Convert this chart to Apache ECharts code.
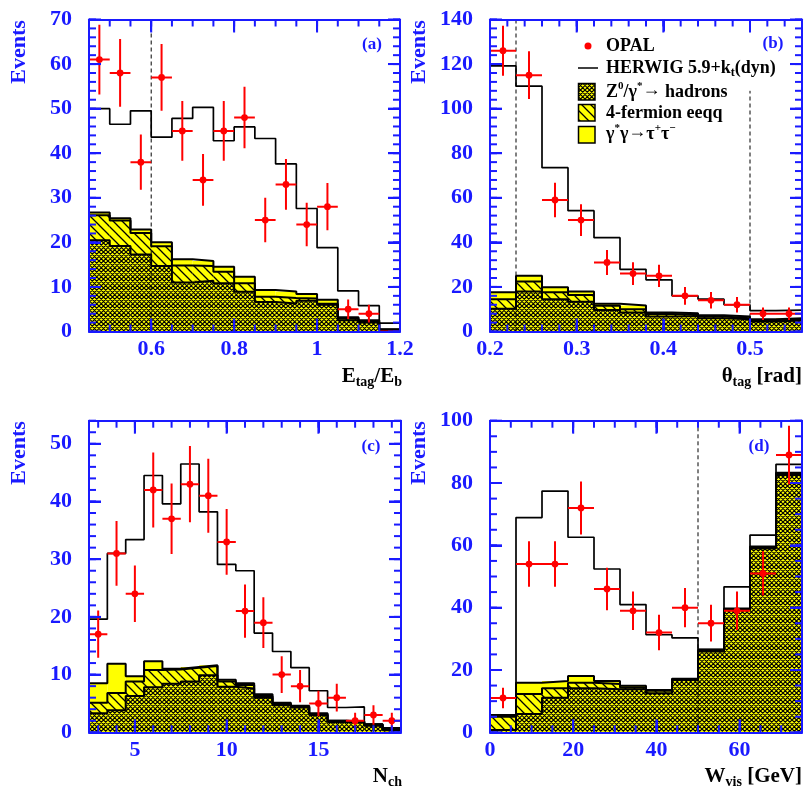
<!DOCTYPE html>
<html><head><meta charset="utf-8">
<script src="https://cdn.jsdelivr.net/npm/echarts@6/dist/echarts.min.js"></script>
<style>html,body{margin:0;padding:0;background:#fff}#c{width:804px;height:792px}</style>
</head><body><div id="c"></div><script>
// ---------- Panel (a): E_tag / E_b ----------
const aEdges = [0.45,0.50,0.55,0.60,0.65,0.70,0.75,0.80,0.85,0.90,0.95,1.00,1.05,1.10,1.15,1.20];
const aData  = [61,58,38,57,45,34,45,48,25,33,24,28,5,4,0];
const aErr   = [7.8,7.6,6.2,7.5,6.7,5.8,6.7,6.9,5.0,5.7,4.9,5.3,2.2,2.0,0];
const aMC    = [50.0,46.5,49.5,43.6,47.8,50.3,42.8,45.9,43.3,37.6,27.6,18.8,9.1,5.8,1.9];
const aZ0    = [20.5,19.2,17.3,14.7,11.0,11.4,10.8,8.9,6.6,6.3,6.9,6.0,2.5,2.0,0.4];
const a4f    = [26.1,24.9,22.1,19.1,14.8,14.7,13.4,10.8,7.8,7.5,7.4,6.2,2.9,2.2,0.4];
const aTau   = [26.7,25.4,22.9,20.0,16.2,15.8,14.5,12.3,9.3,9.0,8.4,7.1,3.2,2.5,0.5];
const aXTicks = [0.6,0.8,1.0,1.2];  const aXLabels = ['0.6','0.8','1','1.2'];
const aYTicks = [0,10,20,30,40,50,60,70];
// ---------- Panel (b): theta_tag ----------
const bEdges = [0.20,0.23,0.26,0.29,0.32,0.35,0.38,0.41,0.44,0.47,0.50,0.53,0.56];
const bData  = [126,115,59,50,31,26,25,16,14,12,8,8];
const bErr   = [11.2,10.7,7.7,7.1,5.6,5.1,5.0,4.0,3.7,3.5,2.8,2.8];
const bMC    = [119.2,110.1,73.5,54.2,42.1,27.9,23.2,16.0,14.5,12.0,9.4,9.6];
const bZ0    = [10.2,17.9,14.5,13.4,9.7,8.5,6.7,7.0,6.0,5.5,4.5,4.9];
const b4f    = [14.5,22.4,17.6,16.4,11.5,10.0,7.9,7.6,6.7,6.0,4.9,5.5];
const bTau   = [17.6,25.0,19.9,17.9,12.4,11.7,8.5,8.2,7.3,6.7,5.5,6.0];
const bXTicks = [0.2,0.3,0.4,0.5];  const bXLabels = ['0.2','0.3','0.4','0.5'];
const bYTicks = [0,20,40,60,80,100,120,140];
// ---------- Panel (c): N_ch ----------
const cEdges = [2.5,3.5,4.5,5.5,6.5,7.5,8.5,9.5,10.5,11.5,12.5,13.5,14.5,15.5,16.5,17.5,18.5,19.5];
const cData  = [17,31,24,42,37,43,41,33,21,19,10,8,5,6,2,3,2];
const cErr   = [4.1,5.6,4.9,6.5,6.1,6.6,6.4,5.7,4.6,4.4,3.2,2.8,2.2,2.4,1.4,1.7,1.4];
const cMC    = [19.6,31.0,33.4,44.5,39.6,46.5,38.2,29.1,28.0,17.2,14.0,11.2,7.2,4.3,4.4,1.4,0.35];
const cZ0    = [3.3,3.8,6.3,7.8,8.4,8.8,9.9,7.9,7.6,6.0,4.7,4.3,3.0,1.8,1.7,1.15,0.5];
const c4f    = [5.1,6.8,8.8,10.8,10.9,11.2,11.5,8.8,8.2,6.3,4.9,4.4,3.1,2.0,1.8,1.3,0.6];
const cTau   = [8.5,11.9,9.7,12.3,11.0,11.3,11.6,9.1,8.5,6.6,5.1,4.6,3.3,2.0,1.9,1.4,0.75];
const cXTicks = [5,10,15];  const cXLabels = ['5','10','15'];
const cYTicks = [0,10,20,30,40,50];
// ---------- Panel (d): W_vis ----------
const dEdges = [0,6.25,12.5,18.75,25,31.25,37.5,43.75,50,56.25,62.5,68.75,75];
const dData  = [11,54,54,72,46,39,32,40,35,39,51,89];
const dErr   = [3.3,7.3,7.3,8.5,6.8,6.2,5.7,6.3,5.9,6.2,7.1,9.4];
const dMC    = [5.6,68.9,77.4,62.6,52.4,41.0,31.3,30.3,26.6,46.7,63.3,86.0];
const dZ0    = [0.7,5.9,11.1,14.1,13.8,13.8,12.5,16.8,25.9,39.3,59.0,82.6];
const d4f    = [5.0,12.3,14.1,15.9,15.5,14.4,13.3,17.0,26.2,39.5,59.3,82.9];
const dTau   = [5.3,15.9,16.5,18.1,16.5,14.9,13.6,17.2,26.5,39.7,59.6,83.3];
const dXTicks = [0,20,40,60];  const dXLabels = ['0','20','40','60'];
const dYTicks = [0,20,40,60,80,100];

const BLUE = '#1a1aff', YEL = '#ffff00', RED = '#ff0000';
const FONT = '"Liberation Serif","Times New Roman",serif';

function range(a, b, s) { const r = []; for (let k = 0; a + k * s <= b + s * 1e-6; k++) r.push(Math.round((a + k * s) * 1e6) / 1e6); return r; }

function mkPattern(kind) {
  const s = 9;
  const cv = document.createElement('canvas'); cv.width = s; cv.height = s;
  const g = cv.getContext('2d');
  g.fillStyle = YEL; g.fillRect(0, 0, s, s);
  g.strokeStyle = '#000';
  g.beginPath();
  if (kind === 'cross') {
    g.lineWidth = 1.2;
    [-9, -4.5, 0, 4.5, 9].forEach(c => { g.moveTo(c - 1, -1); g.lineTo(c + 10, 10); });
    [0, 4.5, 9, 13.5, 18].forEach(c => { g.moveTo(c + 1, -1); g.lineTo(c - 10, 10); });
  } else {
    g.lineWidth = 1.3;
    [-9, 0, 9].forEach(c => { g.moveTo(c - 1, -1); g.lineTo(c + 10, 10); });
  }
  g.stroke();
  return cv;
}
const PCROSS = { image: mkPattern('cross'), repeat: 'repeat' };
const PDIAG = { image: mkPattern('diag'), repeat: 'repeat' };

const panels = [
  { grid: { left: 89, top: 19.5, width: 311, height: 312 }, x: [0.45, 1.2], y: [0, 70],
    xMaj: aXTicks, xLab: aXLabels, xMin: range(0.45, 1.2, 0.05), yMaj: aYTicks, yMin: range(0, 70, 2),
    edges: aEdges, data: aData, err: aErr, mc: aMC, z0: aZ0, f4: a4f, tau: aTau, cuts: [[0.6, 0, 70]] },
  { grid: { left: 490, top: 19.5, width: 312, height: 312 }, x: [0.2, 0.56], y: [0, 140],
    xMaj: bXTicks, xLab: bXLabels, xMin: range(0.2, 0.56, 0.02), yMaj: bYTicks, yMin: range(0, 140, 4),
    edges: bEdges, data: bData, err: bErr, mc: bMC, z0: bZ0, f4: b4f, tau: bTau, cuts: [[0.23, 0, 140], [0.5, 0, 108]] },
  { grid: { left: 89, top: 420.7, width: 312, height: 311.6 }, x: [2.5, 19.5], y: [0, 54],
    xMaj: cXTicks, xLab: cXLabels, xMin: range(3, 19, 1), yMaj: cYTicks, yMin: range(0, 54, 2),
    edges: cEdges, data: cData, err: cErr, mc: cMC, z0: cZ0, f4: c4f, tau: cTau, cuts: [] },
  { grid: { left: 490, top: 420.7, width: 312, height: 311.6 }, x: [0, 75], y: [0, 100],
    xMaj: dXTicks, xLab: dXLabels, xMin: range(0, 75, 5), yMaj: dYTicks, yMin: range(0, 100, 5),
    edges: dEdges, data: dData, err: dErr, mc: dMC, z0: dZ0, f4: d4f, tau: dTau, cuts: [[50, 0, 100]] }
];

const labelStyle = { color: BLUE, fontFamily: FONT, fontWeight: 'bold', fontSize: 22 };
function axesOf(gi, p, dir) {
  const isX = dir === 'x';
  const ext = isX ? p.x : p.y, maj = isX ? p.xMaj : p.yMaj;
  const pos = isX ? ['bottom', 'top'] : ['left', 'right'];
  const base = { gridIndex: gi, type: 'value', min: ext[0], max: ext[1], splitLine: { show: false }, z: 6, zlevel: 1,
    axisTick: { show: true, inside: true, length: 12, customValues: maj, lineStyle: { color: BLUE, width: 2 } } };
  const line = { show: true, onZero: false, lineStyle: { color: BLUE, width: 2 } };
  const lab = isX
    ? Object.assign({ show: true, customValues: maj, margin: 7, formatter: v => { let k = 0; maj.forEach((m, i) => { if (Math.abs(m - v) < Math.abs(maj[k] - v)) k = i; }); return p.xLab[k]; } }, labelStyle)
    : Object.assign({ show: true, customValues: maj, margin: 17 }, labelStyle);
  return [
    Object.assign({}, base, { position: pos[0], axisLine: line, axisLabel: lab }),
    Object.assign({}, base, { position: pos[1], axisLine: line, axisLabel: { show: false } })
  ];
}

// minor/major tick marks on one side of a frame: one item per tick, placed through the axis scales
function tickSide(gi, p, vals, len, side) {
  return { type: 'custom', xAxisIndex: gi * 2, yAxisIndex: gi * 2, clip: false, silent: true, z: 9, zlevel: 1,
    data: vals.map(v => [v, len]),
    renderItem(params, api) {
      const v = api.value(0), L = api.value(1);
      let a, sh;
      if (side === 'b') { a = api.coord([v, p.y[0]]); sh = { x1: a[0], y1: a[1], x2: a[0], y2: a[1] - L }; }
      else if (side === 't') { a = api.coord([v, p.y[1]]); sh = { x1: a[0], y1: a[1], x2: a[0], y2: a[1] + L }; }
      else if (side === 'l') { a = api.coord([p.x[0], v]); sh = { x1: a[0], y1: a[1], x2: a[0] + L, y2: a[1] }; }
      else { a = api.coord([p.x[1], v]); sh = { x1: a[0], y1: a[1], x2: a[0] - L, y2: a[1] }; }
      return { type: 'line', shape: sh, style: { stroke: BLUE, lineWidth: 2 } };
    } };
}

function histFill(gi, edges, vals, fill) {
  return { type: 'custom', xAxisIndex: gi * 2, yAxisIndex: gi * 2, clip: true, silent: true, z: 2,
    data: vals.map((v, i) => [edges[i], edges[i + 1], v]),
    renderItem(params, api) {
      const a = api.coord([api.value(0), api.value(2)]);
      const b = api.coord([api.value(1), 0]);
      return { type: 'rect', shape: { x: a[0], y: a[1], width: b[0] - a[0], height: b[1] - a[1] }, style: { fill: fill } };
    } };
}
function histLine(gi, edges, vals, width, z) {
  return { type: 'line', xAxisIndex: gi * 2, yAxisIndex: gi * 2, step: 'end', symbol: 'none', silent: true, z: z,
    data: edges.map((e, i) => [e, vals[Math.min(i, vals.length - 1)]]),
    lineStyle: { color: '#000', width: width } };
}
function points(gi, edges, vals, errs) {
  return { type: 'custom', xAxisIndex: gi * 2, yAxisIndex: gi * 2, clip: true, silent: true, z: 8,
    data: vals.map((v, i) => [edges[i], edges[i + 1], v, errs[i]]),
    renderItem(params, api) {
      const lo = api.value(0), hi = api.value(1), v = api.value(2), e = api.value(3), c = (lo + hi) / 2;
      const L = api.coord([lo, v]), R = api.coord([hi, v]);
      const ch = [{ type: 'line', shape: { x1: L[0], y1: L[1], x2: R[0], y2: R[1] }, style: { stroke: RED, lineWidth: 2 } }];
      if (v > 0) {
        const T = api.coord([c, v + e]), B = api.coord([c, v - e]), C = api.coord([c, v]);
        ch.push({ type: 'line', shape: { x1: T[0], y1: T[1], x2: B[0], y2: B[1] }, style: { stroke: RED, lineWidth: 2 } });
        ch.push({ type: 'circle', shape: { cx: C[0], cy: C[1], r: 3.4 }, style: { fill: RED } });
      }
      return { type: 'group', children: ch };
    } };
}
function dashed(gi, c) {
  return { type: 'line', xAxisIndex: gi * 2, yAxisIndex: gi * 2, symbol: 'none', silent: true, z: 5,
    data: [[c[0], c[1]], [c[0], c[2]]], lineStyle: { color: '#000', width: 1, type: [4, 3] } };
}

const grids = [], xAxes = [], yAxes = [], series = [];
panels.forEach((p, gi) => {
  grids.push(Object.assign({ containLabel: false, outerBoundsMode: 'none' }, p.grid));
  xAxes.push(...axesOf(gi, p, 'x'));
  yAxes.push(...axesOf(gi, p, 'y'));
  series.push(histFill(gi, p.edges, p.tau, YEL));
  series.push(histFill(gi, p.edges, p.f4, PDIAG));
  series.push(histFill(gi, p.edges, p.z0, PCROSS));
  series.push(histLine(gi, p.edges, p.tau, 2, 3));
  series.push(histLine(gi, p.edges, p.f4, 2, 3));
  series.push(histLine(gi, p.edges, p.z0, 2, 3));
  series.push(histLine(gi, p.edges, p.mc, 1.7, 4));
  p.cuts.forEach(c => series.push(dashed(gi, c)));
  series.push(points(gi, p.edges, p.data, p.err));
  series.push(tickSide(gi, p, p.xMin, 7, 'b'), tickSide(gi, p, p.xMin, 7, 't'),
              tickSide(gi, p, p.yMin, 7, 'l'), tickSide(gi, p, p.yMin, 7, 'r'),
              tickSide(gi, p, p.xMaj, 13, 'b'), tickSide(gi, p, p.xMaj, 13, 't'),
              tickSide(gi, p, p.yMaj, 12, 'l'), tickSide(gi, p, p.yMaj, 12, 'r'));
});

function rich(size, color) {
  const t = { fontFamily: FONT, fontWeight: 'bold', fill: color, verticalAlign: 'middle' };
  return {
    m: Object.assign({ fontSize: size }, t),
    s: Object.assign({ fontSize: Math.round(size * 0.66), padding: [Math.round(size * 0.5), 0, 0, 0] }, t),
    u: Object.assign({ fontSize: Math.round(size * 0.62), padding: [0, 0, Math.round(size * 0.6), 0] }, t),
    a: Object.assign({ fontSize: size, fontWeight: 'normal', padding: [0, 0, 3, 0] }, t)
  };
}
function txt(x, y, text, size, color, align, extra) {
  return Object.assign({ type: 'text', x: x, y: y, z: 50, silent: true,
    style: { text: text, rich: rich(size, color), fontFamily: FONT, fontWeight: 'bold', fontSize: size, fill: color, align: align || 'center', verticalAlign: 'middle' } }, extra || {});
}
const graphic = [
  txt(19, 52, '{m|Events}', 22, BLUE, 'center', { rotation: Math.PI / 2 }),
  txt(419, 52, '{m|Events}', 22, BLUE, 'center', { rotation: Math.PI / 2 }),
  txt(19, 453, '{m|Events}', 22, BLUE, 'center', { rotation: Math.PI / 2 }),
  txt(419, 453, '{m|Events}', 22, BLUE, 'center', { rotation: Math.PI / 2 }),
  txt(372, 45, '{m|(a)}', 17, BLUE),
  txt(773, 44, '{m|(b)}', 17, BLUE),
  txt(371, 447, '{m|(c)}', 17, BLUE),
  txt(759, 447, '{m|(d)}', 17, BLUE),
  txt(402, 377, '{m|E}{s|tag}{m|/E}{s|b}', 21, '#000', 'right'),
  txt(802, 377, '{m|θ}{s|tag}{m| [rad]}', 21, '#000', 'right'),
  txt(402, 777, '{m|N}{s|ch}', 21, '#000', 'right'),
  txt(802, 777, '{m|W}{s|vis}{m| [GeV]}', 21, '#000', 'right'),
  // legend
  { type: 'circle', z: 50, silent: true, shape: { cx: 588, cy: 46, r: 3.5 }, style: { fill: RED } },
  { type: 'line', z: 50, silent: true, shape: { x1: 578, y1: 68, x2: 598, y2: 68 }, style: { stroke: '#000', lineWidth: 1.5 } },
  { type: 'rect', z: 50, silent: true, shape: { x: 578.5, y: 83.5, width: 16.5, height: 16.5 }, style: { fill: PCROSS, stroke: '#000', lineWidth: 1.5 } },
  { type: 'rect', z: 50, silent: true, shape: { x: 578.5, y: 104.5, width: 16.5, height: 16.5 }, style: { fill: PDIAG, stroke: '#000', lineWidth: 1.5 } },
  { type: 'rect', z: 50, silent: true, shape: { x: 578.5, y: 126.5, width: 16.5, height: 16.5 }, style: { fill: YEL, stroke: '#000', lineWidth: 1.5 } },
  txt(606, 46, '{m|OPAL}', 18, '#000', 'left'),
  txt(606, 68, '{m|HERWIG 5.9+k}{s|t}{m|(dyn)}', 18, '#000', 'left'),
  txt(606, 92, '{m|Z}{u|0}{m|/γ}{u|*}{a|→}{m| hadrons}', 18, '#000', 'left'),
  txt(606, 113, '{m|4-fermion eeqq}', 18, '#000', 'left'),
  txt(606, 134, '{m|γ}{u|*}{m|γ}{a|→}{m|τ}{u|+}{m|τ}{u|−}', 18, '#000', 'left')
];

const chart = echarts.init(document.getElementById('c'), null, { renderer: 'canvas' });
chart.setOption({ animation: false, backgroundColor: '#fff', grid: grids, xAxis: xAxes, yAxis: yAxes, series: series, graphic: graphic });
</script></body></html>
